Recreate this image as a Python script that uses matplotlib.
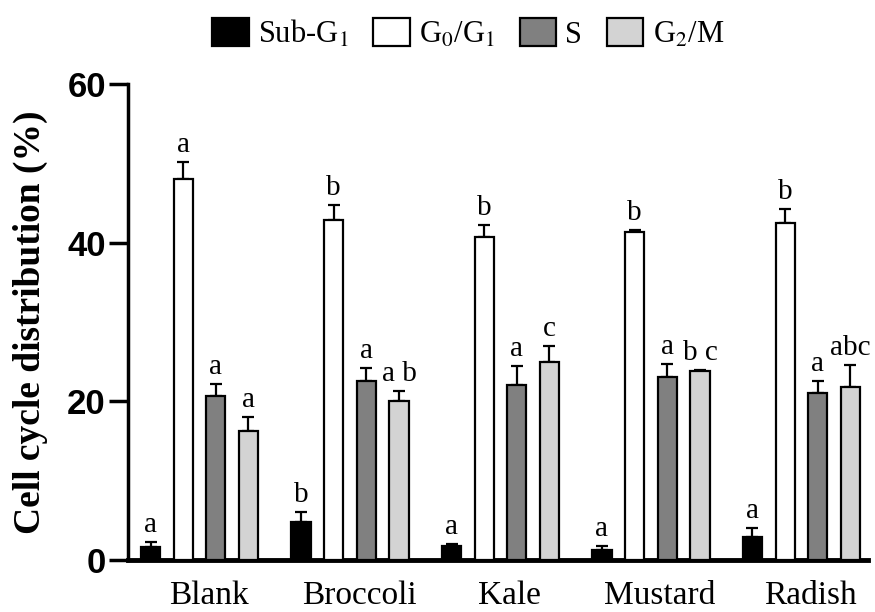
import matplotlib.pyplot as plt
import matplotlib.patches as mpatches
import numpy as np

plt.rcParams['mathtext.fontset'] = 'stix'
plt.rcParams['font.family'] = 'Liberation Serif'

groups = ['Blank', 'Broccoli', 'Kale', 'Mustard', 'Radish']
phases = ['Sub-G$_1$', 'G$_0$/G$_1$', 'S', 'G$_2$/M']
colors = ['black', 'white', '#808080', '#d3d3d3']

sub_g1 = [1.6, 4.8, 1.8, 1.3, 2.9]
g0_g1 = [48.0, 42.9, 40.7, 41.4, 42.5]
s_phase = [20.7, 22.6, 22.0, 23.1, 21.1]
g2_m = [16.3, 20.1, 25.0, 23.8, 21.8]

sub_g1_err = [0.7, 1.3, 0.2, 0.5, 1.1]
g0_g1_err = [2.2, 1.8, 1.5, 0.2, 1.7]
s_phase_err = [1.5, 1.6, 2.4, 1.6, 1.5]
g2_m_err = [1.7, 1.2, 2.0, 0.2, 2.8]

sub_g1_lbl = ['a', 'b', 'a', 'a', 'a']
g0_g1_lbl = ['a', 'b', 'b', 'b', 'b']
s_phase_lbl = ['a', 'a', 'a', 'a', 'a']
g2_m_lbl = ['a', 'a b', 'c', 'b c', 'abc']

values = [sub_g1, g0_g1, s_phase, g2_m]
errors = [sub_g1_err, g0_g1_err, s_phase_err, g2_m_err]
letters = [sub_g1_lbl, g0_g1_lbl, s_phase_lbl, g2_m_lbl]

fig = plt.figure(figsize=(8.75, 6.12), dpi=100)
ax = fig.add_axes([0.1463, 0.085, 0.8457, 0.7777])

x = np.arange(len(groups))
step = 0.217
width = 0.128

for k in range(4):
    xs = x + (k - 1.5) * step
    ax.bar(xs, values[k], width, color=colors[k], edgecolor='black', linewidth=1.6, zorder=3)
    ax.errorbar(xs, values[k], yerr=[np.zeros(len(groups)), errors[k]], fmt='none',
                ecolor='black', elinewidth=1.6, capsize=4.5, capthick=1.6, zorder=2)
    for i in range(len(groups)):
        ax.text(xs[i], values[k][i] + errors[k][i] + 0.5, letters[k][i], ha='center', va='bottom',
                fontsize=21)

ax.set_xlim(-0.475, 4.442)
ax.set_ylim(0, 60)
ax.set_yticks([0, 20, 40, 60])
ax.set_yticklabels(['0', '20', '40', '60'], fontfamily='Liberation Sans', fontweight='bold', fontsize=25)
ax.set_xticks(x + 0.06)
ax.set_xticklabels(groups, fontsize=24)
ax.tick_params(axis='x', length=0, pad=15)
ax.tick_params(axis='y', length=14, width=2.5, pad=2)

for side in ['top', 'right']:
    ax.spines[side].set_visible(False)
ax.spines['left'].set_linewidth(2.5)
ax.spines['bottom'].set_linewidth(3.5)

ax.set_ylabel('Cell cycle distribution (%)', fontsize=27, fontweight='bold', labelpad=14)

handles = [mpatches.Patch(facecolor=colors[k], edgecolor='black', linewidth=1.6) for k in range(4)]
fig.legend(handles, phases, loc='upper center', bbox_to_anchor=(0.535, 1.0), ncol=4, frameon=False,
           fontsize=22, handlelength=1.2, handleheight=1.0, handletextpad=0.3, columnspacing=0.8,
           borderaxespad=0.2)

fig.savefig('out.png', dpi=100)
